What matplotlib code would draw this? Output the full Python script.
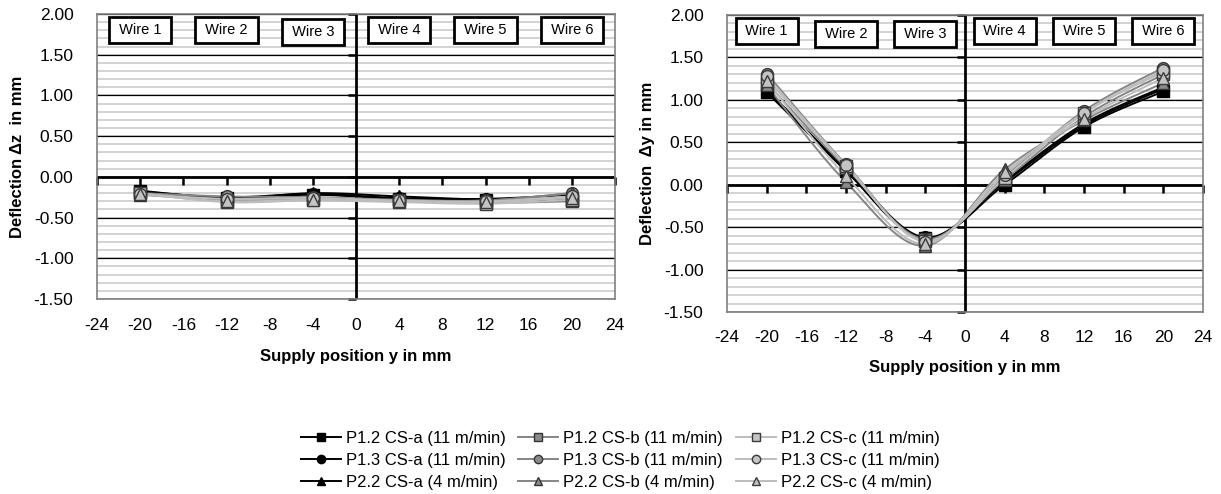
import numpy as np
import matplotlib
matplotlib.use("Agg")
import matplotlib.pyplot as plt
from matplotlib.lines import Line2D

plt.rcParams.update({
    "font.family": ["Liberation Sans", "DejaVu Sans"],
    "font.size": 12,
    "axes.unicode_minus": False,
})

# supply positions (wire centres) in mm
y_pos = [-20, -12, -4, 4, 12, 20]
wires = ["Wire 1", "Wire 2", "Wire 3", "Wire 4", "Wire 5", "Wire 6"]

# series order: CS-a / CS-b / CS-c for P1.2, P1.3, P2.2
labels = [
    "P1.2 CS-a (11 m/min)", "P1.3 CS-a (11 m/min)", "P2.2 CS-a (4 m/min)",
    "P1.2 CS-b (11 m/min)", "P1.3 CS-b (11 m/min)", "P2.2 CS-b (4 m/min)",
    "P1.2 CS-c (11 m/min)", "P1.3 CS-c (11 m/min)", "P2.2 CS-c (4 m/min)",
]

# deflection dz in mm
dz_p12a = [-0.17, -0.26, -0.22, -0.27, -0.28, -0.29]
dz_p13a = [-0.18, -0.25, -0.21, -0.26, -0.27, -0.22]
dz_p22a = [-0.18, -0.27, -0.20, -0.24, -0.28, -0.29]
dz_p12b = [-0.20, -0.30, -0.27, -0.29, -0.32, -0.30]
dz_p13b = [-0.20, -0.24, -0.25, -0.28, -0.29, -0.20]
dz_p22b = [-0.22, -0.28, -0.26, -0.29, -0.29, -0.20]
dz_p12c = [-0.20, -0.31, -0.29, -0.31, -0.33, -0.28]
dz_p13c = [-0.21, -0.27, -0.26, -0.29, -0.30, -0.24]
dz_p22c = [-0.21, -0.30, -0.28, -0.30, -0.31, -0.26]

# deflection dy in mm
dy_p12a = [1.09, 0.18, -0.63, 0.00, 0.68, 1.10]
dy_p13a = [1.12, 0.19, -0.62, 0.03, 0.70, 1.13]
dy_p22a = [1.13, 0.16, -0.64, 0.05, 0.72, 1.15]
dy_p12b = [1.20, 0.20, -0.64, 0.06, 0.80, 1.30]
dy_p13b = [1.31, 0.24, -0.65, 0.10, 0.87, 1.38]
dy_p22b = [1.17, 0.03, -0.72, 0.18, 0.76, 1.20]
dy_p12c = [1.25, 0.22, -0.66, 0.08, 0.84, 1.33]
dy_p13c = [1.28, 0.23, -0.67, 0.12, 0.85, 1.35]
dy_p22c = [1.22, 0.10, -0.70, 0.15, 0.78, 1.26]

dz_all = [dz_p12a, dz_p13a, dz_p22a, dz_p12b, dz_p13b, dz_p22b, dz_p12c, dz_p13c, dz_p22c]
dy_all = [dy_p12a, dy_p13a, dy_p22a, dy_p12b, dy_p13b, dy_p22b, dy_p12c, dy_p13c, dy_p22c]

markers = ["s", "o", "^"] * 3
line_cols = ["black"] * 3 + ["#858585"] * 3 + ["#bdbdbd"] * 3
face_cols = ["black"] * 3 + ["#8a8a8a"] * 3 + ["#c4c4c4"] * 3
edge_cols = ["black"] * 3 + ["#333333"] * 3 + ["#3a3a3a"] * 3


def smooth_path(x, y, n=24):
    # bezier smoothing through the points, like a spreadsheet "smoothed line"
    p = np.column_stack([x, y]).astype(float)
    out = [p[0]]
    for i in range(len(p) - 1):
        p0 = p[i - 1] if i > 0 else p[i]
        p1, p2 = p[i], p[i + 1]
        p3 = p[i + 2] if i + 2 < len(p) else p[i + 1]
        c1 = p1 + (p2 - p0) / 6.0
        c2 = p2 - (p3 - p1) / 6.0
        t = np.linspace(0, 1, n)[1:, None]
        seg = ((1 - t) ** 3) * p1 + 3 * ((1 - t) ** 2) * t * c1 \
            + 3 * (1 - t) * t ** 2 * c2 + t ** 3 * p2
        out.extend(seg)
    out = np.array(out)
    return out[:, 0], out[:, 1]


def draw_panel(ax, series, ylabel, wire_y, xpad):
    ax.set_xlim(-24, 24)
    ax.set_ylim(-1.5, 2.0)
    # grid
    for v in np.arange(-1.5, 2.001, 0.1):
        ax.axhline(v, color="#c8c8c8", lw=1.1, zorder=0)
    for v in np.arange(-1.5, 2.001, 0.5):
        ax.axhline(v, color="black", lw=0.9, zorder=0.5)
    # zero axes with tick marks
    ax.axhline(0, color="black", lw=2.0, zorder=1)
    ax.axvline(0, color="black", lw=2.0, zorder=1)
    xt = np.arange(-24, 25, 4)
    yt = np.arange(-1.5, 2.01, 0.5)
    ax.plot(xt, np.zeros_like(xt), ls="none", marker=3, ms=6, mew=1.8,
            color="black", zorder=1, clip_on=False)
    ax.plot(np.zeros_like(yt), yt, ls="none", marker=0, ms=6, mew=1.8,
            color="black", zorder=1, clip_on=False)

    for i, vals in enumerate(series):
        sx, sy = smooth_path(y_pos, vals)
        ax.plot(sx, sy, color=line_cols[i], lw=1.4, zorder=2 + i * 0.01)
    for i, vals in enumerate(series):
        ax.plot(y_pos, vals, ls="none", marker=markers[i], ms=8.5,
                mfc=face_cols[i], mec=edge_cols[i], mew=1.0, zorder=3)

    for x, w, yy in zip(y_pos, wires, wire_y):
        ax.text(x, yy, " " + w + " ", ha="center", va="center", fontsize=10.5,
                bbox=dict(boxstyle="square,pad=0.4", fc="white",
                          ec="black", lw=2.0), zorder=4)

    ax.set_xticks(xt)
    ax.set_yticks(yt)
    ax.set_yticklabels([f"{v:.2f}" for v in yt])
    ax.tick_params(length=0, labelsize=12.5)
    ax.tick_params(axis="x", pad=xpad)
    ax.tick_params(axis="y", pad=17)
    for s in ax.spines.values():
        s.set_color("#808080")
        s.set_linewidth(1.2)
    ax.set_xlabel("Supply position y in mm", fontweight="bold", fontsize=12,
                  labelpad=11)
    ax.set_ylabel(ylabel, fontweight="bold", fontsize=12, labelpad=6)


fig = plt.figure(figsize=(12.21, 4.94), dpi=100)
ax1 = fig.add_axes([97 / 1221, 1 - 299 / 494, (615 - 97) / 1221, (299 - 14) / 494])
ax2 = fig.add_axes([727 / 1221, 1 - 312 / 494, (1203 - 727) / 1221, (312 - 15) / 494])

draw_panel(ax1, dz_all, "Deflection \u0394z  in mm",
           [1.80, 1.80, 1.78, 1.80, 1.80, 1.80], xpad=14)
draw_panel(ax2, dy_all, "Deflection  \u0394y in mm",
           [1.81, 1.78, 1.78, 1.81, 1.81, 1.81], xpad=13)

handles = [Line2D([], [], color=line_cols[i], lw=1.4, marker=markers[i], ms=6,
                  mfc=face_cols[i], mec=edge_cols[i], mew=1.0)
           for i in range(9)]
fig.legend(handles, labels, ncol=3, loc="center",
           bbox_to_anchor=(0.508, 1 - 460 / 494), frameon=False,
           fontsize=12, handlelength=2.4, columnspacing=0.75,
           labelspacing=0.42, handletextpad=0.3)

fig.savefig("out.png", dpi=100)
